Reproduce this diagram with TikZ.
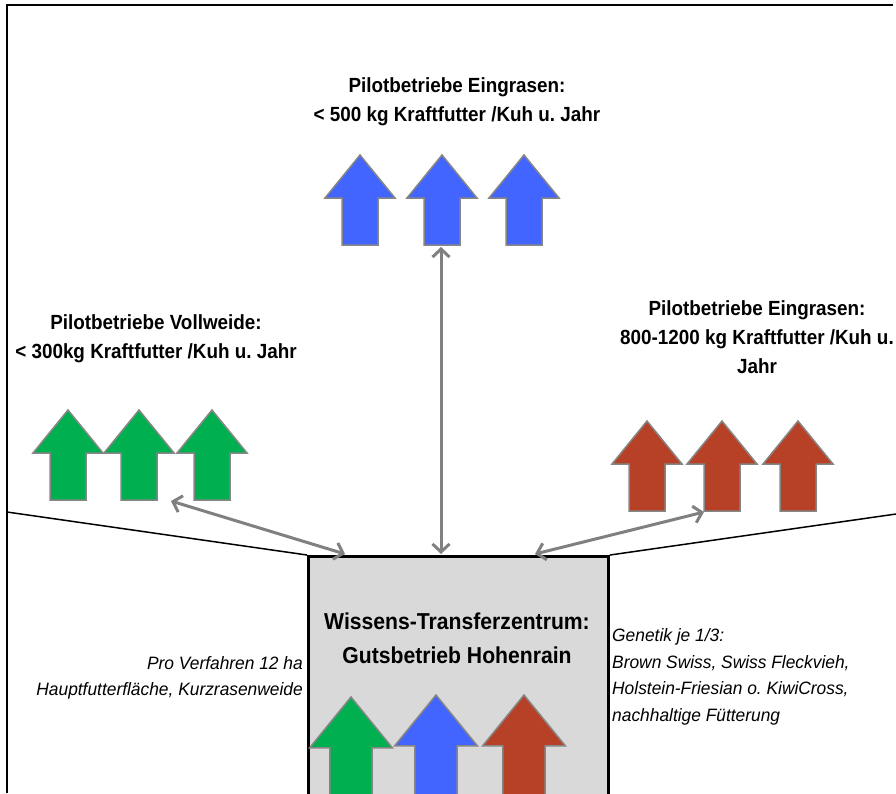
\documentclass[tikz,border=0pt]{standalone}
\usepackage{fontspec}
\setmainfont{Liberation Sans}[FakeStretch=0.92]
\newfontfamily\notefont{Liberation Sans}[FakeStretch=0.97]
\frenchspacing
\usetikzlibrary{arrows.meta,calc}
\definecolor{cowgreen}{HTML}{00B050}
\definecolor{cowblue}{HTML}{4264FF}
\definecolor{cowred}{HTML}{B64127}
\definecolor{hubgray}{HTML}{D9D9D9}
\tikzset{
	blockline/.style={draw=gray!95,line width=1.5pt,line join=miter},
	pics/upblock/.style={code={
		\draw[blockline,fill=#1] (0,0) -- (35,43) -- (18,43) -- (18,90) -- (-18,90) -- (-18,43) -- (-35,43) -- cycle;}},
	link/.style={draw=gray,line width=3pt,{Straight Barb[length=8pt,width=17pt]}-{Straight Barb[length=8pt,width=17pt]}},
	title/.style={inner sep=0pt,align=center,font=\fontsize{20.5}{29}\selectfont\bfseries},
	note/.style={inner sep=0pt,font=\notefont\fontsize{17.9}{26.5}\selectfont\itshape},
	hubbox/.style={draw=black,line width=3pt,fill=hubgray,inner sep=0pt,minimum width=300pt,minimum height=260pt,anchor=north west}
}
\begin{document}
\begin{tikzpicture}[x=1pt,y=-1pt]
	\useasboundingbox (0,0) rectangle (896,793);
	\clip (0,0) rectangle (896,793);
	% Rahmen
	\draw[line width=2pt] (7,793) -- (7,5) -- (893,5);
	% Zentrum
	\node[hubbox] (hub) at (307,555) {};
	\coordinate (lEdge) at (7,512);
	\coordinate (rEdge) at (896,514);
	\draw[line width=1.5pt] (lEdge) -- (hub.north west);
	\draw[line width=1.5pt] (hub.north east) -- (rEdge);
	% Pilotbetriebe
	\pic at (360,155) {upblock=cowblue};
	\pic at (442,155) {upblock=cowblue};
	\pic at (524,155) {upblock=cowblue};
	\pic at (68,410) {upblock=cowgreen};
	\pic at (139,410) {upblock=cowgreen};
	\pic at (212,410) {upblock=cowgreen};
	\pic at (647,421) {upblock=cowred};
	\pic at (722,421) {upblock=cowred};
	\pic at (798,421) {upblock=cowred};
	\pic[scale=1.18] at (351,697) {upblock=cowgreen};
	\pic[scale=1.18] at (436,695) {upblock=cowblue};
	\pic[scale=1.18] at (524,695) {upblock=cowred};
	% Texte
	\node[title] (eg) at (457,102) {Pilotbetriebe Eingrasen:\\< 500 kg Kraftfutter /Kuh u. Jahr};
	\node[title] (vw) at (156,339) {Pilotbetriebe Vollweide:\\< 300kg Kraftfutter /Kuh u. Jahr};
	\node[title] (hi) at (757,337) {Pilotbetriebe Eingrasen:\\800-1200 kg Kraftfutter /Kuh u.\\Jahr};
	\node[title,font=\fontsize{23}{34}\selectfont\bfseries] (wtz) at (457,638) {Wissens-Transferzentrum:\\Gutsbetrieb Hohenrain};
	\node[note,align=right,anchor=east] (flaeche) at (303,678) {Pro Verfahren 12 ha\\Hauptfutterfläche, Kurzrasenweide};
	\node[note,align=left,anchor=west] (genetik) at (612,677) {Genetik je 1/3:\\Brown Swiss, Swiss Fleckvieh,\\Holstein-Friesian o. KiwiCross,\\nachhaltige Fütterung};
	% Verbindungen
	\coordinate (vwFoot) at (171,501);
	\coordinate (egFoot) at (441,247);
	\coordinate (hiFoot) at (704,512);
	\draw[link] (vwFoot) -- ($(hub.north west)+(38,-1)$);
	\draw[link] (egFoot) -- ($(hub.north west)+(134,-1)$);
	\draw[link] (hiFoot) -- ($(hub.north west)+(228,-1)$);
\end{tikzpicture}
\end{document}
